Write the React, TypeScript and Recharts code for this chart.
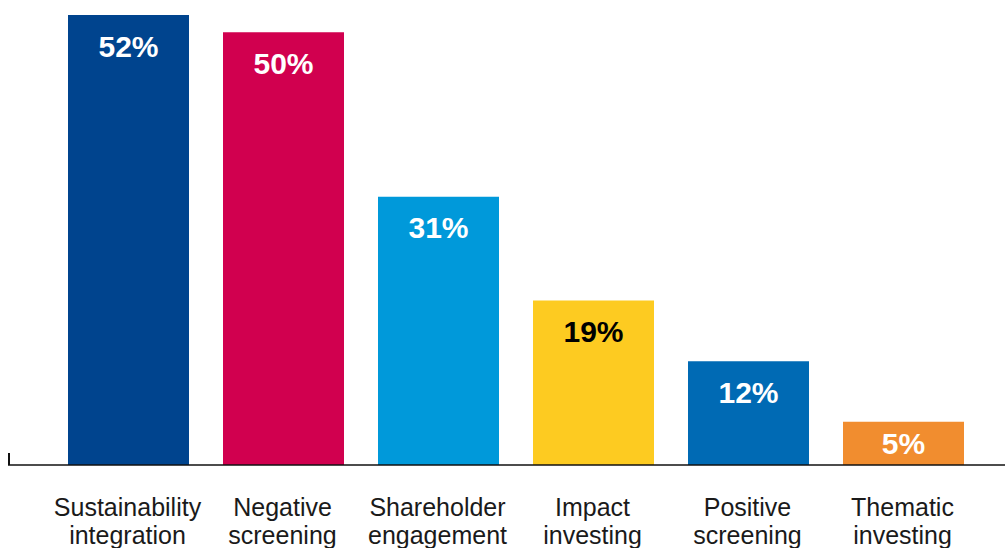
import { BarChart, Bar, XAxis, YAxis, Cell, LabelList } from 'recharts';

const categories = [
  'Sustainability integration',
  'Negative screening',
  'Shareholder engagement',
  'Impact investing',
  'Positive screening',
  'Thematic investing',
];
const shares = [52, 50, 31, 19, 12, 5];
const barColors = ['#00448e', '#d1004f', '#0099da', '#fdcb21', '#006ab4', '#f18d2f'];
const labelColors = ['#fff', '#fff', '#fff', '#000', '#fff', '#fff'];

const data = categories.map((name, i) => ({ name, value: shares[i] }));

const FONT = '"Liberation Sans", Arial, Helvetica, sans-serif';

// two-line category label under each bar
const CategoryTick = (props: any) => {
  const { x, y, payload } = props;
  const words = String(payload.value).split(' ');
  return (
    <g transform={`translate(${x},${y})`}>
      {words.map((w: string, i: number) => (
        <text
          key={i}
          x={-1}
          y={51 + i * 28}
          textAnchor="middle"
          fill="#1a1a1a"
          fontFamily={FONT}
          fontSize={25}
        >
          {w}
        </text>
      ))}
    </g>
  );
};

const ValueLabel = (props: any) => {
  const { x, y, width, height, value, index } = props;
  // short bars get the label centred, others sit near the top
  const cy = Math.min(y + 31, y + height / 2);
  return (
    <text
      x={x + width / 2}
      y={cy}
      textAnchor="middle"
      dominantBaseline="central"
      fill={labelColors[index]}
      fontFamily={FONT}
      fontWeight="bold"
      fontSize={30}
    >
      {`${value}%`}
    </text>
  );
};

export default function App() {
  // fixed frame the size of the window so nothing scrolls
  return (
    <div
      style={{
        position: 'absolute',
        left: 0,
        top: 0,
        width: 1005,
        height: 548,
        overflow: 'hidden',
        background: '#fff',
      }}
    >
      <div style={{ position: 'absolute', left: 8, top: 8, width: 997, height: 540 }}>
        <BarChart
          width={997}
          height={540}
          data={data}
          margin={{ top: 7, right: 0, bottom: 0, left: 0 }}
          barCategoryGap={34}
        >
          <XAxis
            dataKey="name"
            padding={{ left: 43, right: 24 }}
            axisLine={{ stroke: '#111', strokeWidth: 1.5 }}
            tickLine={false}
            tickSize={0}
            tickMargin={0}
            height={83}
            interval={0}
            tick={<CategoryTick />}
          />
          <YAxis hide domain={[0, 52]} />
          <Bar dataKey="value" barSize={121} isAnimationActive={false}>
            {data.map((_, i) => (
              <Cell key={`cell-${i}`} fill={barColors[i]} />
            ))}
            <LabelList dataKey="value" content={<ValueLabel />} />
          </Bar>
        </BarChart>
        <div
          style={{
            position: 'absolute',
            left: 0,
            top: 445,
            width: 1.5,
            height: 12,
            background: '#111',
          }}
        />
      </div>
    </div>
  );
}
